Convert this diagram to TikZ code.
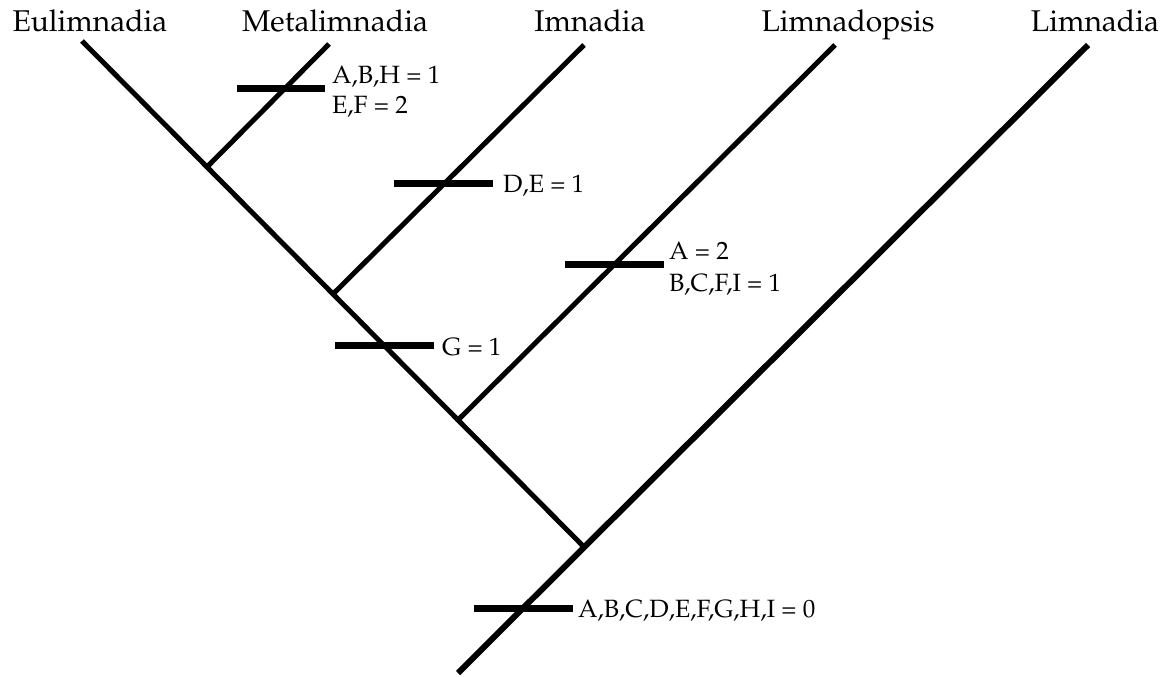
\documentclass[tikz,border=0pt]{standalone}
\usepackage[T1]{fontenc}
\usepackage{mathpazo}
\begin{document}
\begin{tikzpicture}[x=1pt,y=-1pt,
  branch/.style={line width=5pt,line cap=butt},
  trunk/.style={line width=6pt,line cap=butt},
  tick/.style={line width=7pt,line cap=butt},
  taxon/.style={anchor=base,inner sep=0pt,font=\fontsize{30}{30}\selectfont},
  charlab/.style={anchor=base west,inner sep=0pt,font=\fontsize{25}{25}\selectfont}]
\useasboundingbox (0,0) rectangle (1167,677);
% tree points
\coordinate (eT) at (82,41);
\coordinate (mJ) at (207,167);
\coordinate (mT) at (329,44);
\coordinate (iJ) at (333,294);
\coordinate (iT) at (584,45);
\coordinate (lpJ) at (458,420);
\coordinate (lpT) at (835,45);
\coordinate (rJ) at (583,546);
\coordinate (liT) at (1088,45);
\coordinate (bot) at (458,673);
% branches
\draw[branch] (eT) -- (rJ);
\draw[branch] (mJ) -- (mT);
\draw[branch] (iJ) -- (iT);
\draw[branch] (lpJ) -- (lpT);
\draw[trunk] (bot) -- (liT);
% ticks
\coordinate (t1a) at (237,88);  \coordinate (t1b) at (325,88);
\coordinate (t2a) at (394,183); \coordinate (t2b) at (493,183);
\coordinate (t3a) at (565,264); \coordinate (t3b) at (664,264);
\coordinate (t4a) at (335,345); \coordinate (t4b) at (434,345);
\coordinate (t5a) at (474,608); \coordinate (t5b) at (573,608);
\draw[tick] (t1a) -- (t1b);
\draw[tick] (t2a) -- (t2b);
\draw[tick] (t3a) -- (t3b);
\draw[tick] (t4a) -- (t4b);
\draw[tick] (t5a) -- (t5b);
% taxa
\node[taxon] (nEu) at (90,32) {Eulimnadia};
\node[taxon] (nMe) at (335,32) {Metalimnadia};
\node[taxon] (nIm) at (590,32) {Imnadia};
\node[taxon] (nLp) at (848,32) {Limnadopsis};
\node[taxon] (nLi) at (1095,32) {Limnadia};
% character labels
\node[charlab] (c1) at (332,83) {A,B,H = 1};
\node[charlab] (c2) at (332,113) {E,F = 2};
\node[charlab] (c3) at (503,192) {D,E = 1};
\node[charlab] (c4) at (669,259) {A = 2};
\node[charlab] (c5) at (669,291) {B,C,F,I = 1};
\node[charlab] (c6) at (442,355) {G = 1};
\node[charlab] (c7) at (578,617) {A,B,C,D,E,F,G,H,I = 0};
\end{tikzpicture}
\end{document}
